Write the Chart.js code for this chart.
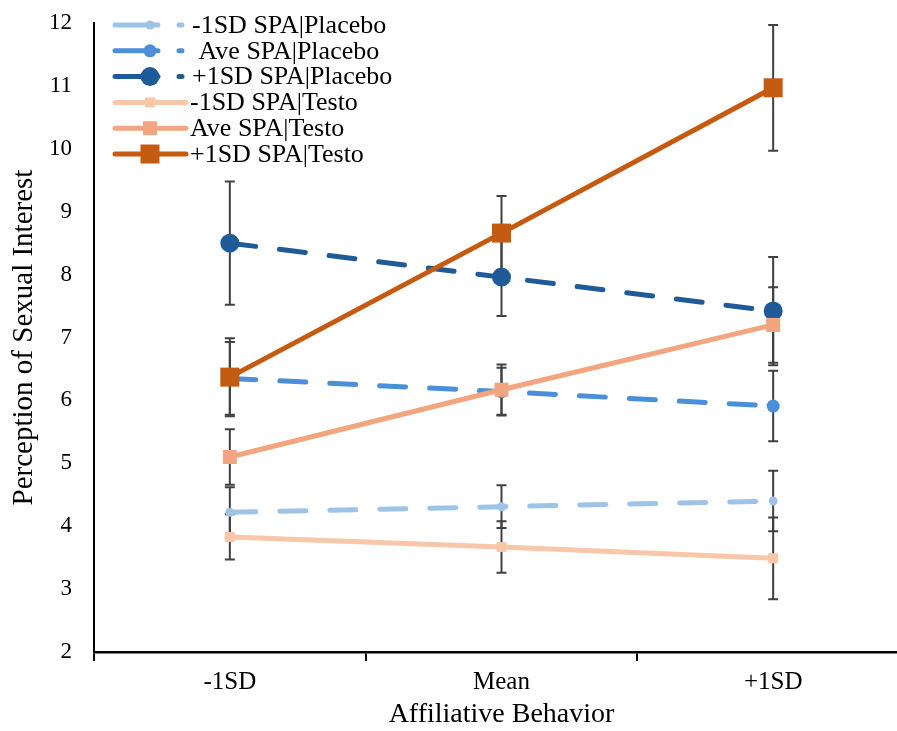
<!DOCTYPE html>
<html>
<head>
<meta charset="utf-8">
<script src="https://cdn.jsdelivr.net/npm/chart.js@4/dist/chart.umd.min.js"></script>
<style>
  html, body { margin: 0; padding: 0; background: #fff; overflow: hidden; }
  canvas { display: block; }
</style>
</head>
<body>
<canvas id="chart" width="912" height="731"></canvas>
<script>
const categories = ["-1SD", "Mean", "+1SD"];

const lowPlacebo = [4.22, 4.31, 4.40];
const lowPlaceboErr = [0.40, 0.34, 0.48];
const avePlacebo = [6.35, 6.14, 5.91];
const avePlaceboErr = [0.58, 0.38, 0.56];
const highPlacebo = [8.50, 7.96, 7.42];
const highPlaceboErr = [0.98, 0.62, 0.86];

const lowTesto = [3.83, 3.67, 3.49];
const lowTestoErr = [0.36, 0.41, 0.65];
const aveTesto = [5.10, 6.17, 7.20];
const aveTestoErr = [0.44, 0.40, 0.60];
const highTesto = [6.37, 8.66, 10.97];
const highTestoErr = [0.62, 0.59, 1.00];

const FONT = "'Liberation Serif', 'Times New Roman', serif";
const DASH = [26, 24];

function series(label, data, err, color, placebo, size, order) {
  return {
    label: label,
    data: data,
    errors: err,
    placebo: placebo,
    markerSize: size,
    borderColor: color,
    backgroundColor: color,
    borderWidth: 5,
    borderDash: placebo ? DASH : [],
    borderCapStyle: "round",
    pointStyle: placebo ? "circle" : "rect",
    pointRadius: placebo ? size : size / Math.SQRT2,
    pointHoverRadius: placebo ? size : size / Math.SQRT2,
    pointBorderWidth: 0,
    pointBackgroundColor: color,
    tension: 0,
    clip: false,
    order: order,
  };
}

// error bars, drawn under the lines
const errorBars = {
  id: "errorBars",
  beforeDatasetsDraw(chart) {
    const ctx = chart.ctx;
    const y = chart.scales.y;
    ctx.save();
    ctx.strokeStyle = "#404040";
    ctx.lineWidth = 2;
    chart.data.datasets.forEach((ds, i) => {
      const meta = chart.getDatasetMeta(i);
      meta.data.forEach((pt, j) => {
        const top = y.getPixelForValue(ds.data[j] + ds.errors[j]);
        const bot = y.getPixelForValue(ds.data[j] - ds.errors[j]);
        ctx.beginPath();
        ctx.moveTo(pt.x, top);
        ctx.lineTo(pt.x, bot);
        ctx.moveTo(pt.x - 5, top);
        ctx.lineTo(pt.x + 5, top);
        ctx.moveTo(pt.x - 5, bot);
        ctx.lineTo(pt.x + 5, bot);
        ctx.stroke();
      });
    });
    ctx.restore();
  },
};

// legend with line + marker samples
const lineLegend = {
  id: "lineLegend",
  afterDraw(chart) {
    const ctx = chart.ctx;
    ctx.save();
    ctx.font = "26px " + FONT;
    ctx.textBaseline = "middle";
    chart.data.datasets.forEach((ds, i) => {
      const yy = 25 + i * 25.8;
      ctx.strokeStyle = ds.borderColor;
      ctx.fillStyle = ds.borderColor;
      ctx.lineWidth = 5;
      ctx.lineCap = "round";
      ctx.beginPath();
      if (ds.placebo) {
        ctx.moveTo(115, yy);
        ctx.lineTo(158, yy);
        ctx.moveTo(179, yy);
        ctx.lineTo(182, yy);
      } else {
        ctx.moveTo(115, yy);
        ctx.lineTo(186, yy);
      }
      ctx.stroke();
      ctx.beginPath();
      if (ds.placebo) {
        ctx.arc(150, yy, ds.markerSize, 0, Math.PI * 2);
      } else {
        const s = ds.markerSize;
        ctx.rect(150 - s / 2, yy - s / 2, s, s);
      }
      ctx.fill();
      ctx.fillStyle = "#000";
      ctx.fillText(ds.label, ds.placebo ? 192 : 190, yy + 1);
    });
    ctx.restore();
  },
};

const datasets = [
  series("-1SD SPA|Placebo", lowPlacebo, lowPlaceboErr, "#9DC3E6", true, 4.5, 5),
  series(" Ave SPA|Placebo", avePlacebo, avePlaceboErr, "#4A8FD8", true, 6.5, 4),
  series("+1SD SPA|Placebo", highPlacebo, highPlaceboErr, "#1F5B99", true, 9.5, 3),
  series("-1SD SPA|Testo", lowTesto, lowTestoErr, "#F8C6A8", false, 10, 2),
  series("Ave SPA|Testo", aveTesto, aveTestoErr, "#F2A57E", false, 14, 1),
  series("+1SD SPA|Testo", highTesto, highTestoErr, "#C55A11", false, 19, 0),
];

new Chart(document.getElementById("chart").getContext("2d"), {
  type: "line",
  data: { labels: categories, datasets: datasets },
  plugins: [errorBars, lineLegend],
  options: {
    responsive: false,
    animation: false,
    layout: { autoPadding: false, padding: { top: 23, right: 3, left: 0, bottom: 0 } },
    plugins: {
      legend: { display: false },
      tooltip: { enabled: false },
    },
    scales: {
      x: {
        type: "category",
        offset: true,
        grid: {
          display: true,
          offset: true,
          drawOnChartArea: false,
          drawTicks: true,
          tickLength: 9,
          color: "#000",
          lineWidth: 2,
        },
        border: { display: true, color: "#000", width: 2.5 },
        ticks: { color: "#000", font: { family: FONT, size: 25 }, padding: 6 },
        title: {
          display: true,
          text: "Affiliative Behavior",
          color: "#000",
          font: { family: FONT, size: 28 },
          padding: { top: 0, bottom: 0 },
        },
        afterFit(scale) { scale.height = 79; },
      },
      y: {
        min: 2,
        max: 12,
        ticks: { stepSize: 1, color: "#000", font: { family: FONT, size: 23 }, padding: 0 },
        // invisible tick marks only push the labels away from the axis
        grid: {
          display: true,
          drawOnChartArea: false,
          drawTicks: true,
          tickLength: 22,
          color: "rgba(0,0,0,0)",
        },
        border: { display: true, color: "#000", width: 2 },
        title: {
          display: true,
          text: "Perception of Sexual Interest",
          color: "#000",
          font: { family: FONT, size: 29 },
          padding: { top: 7, bottom: 0 },
        },
        afterFit(scale) { scale.width = 94; },
      },
    },
  },
});
</script>
</body>
</html>
